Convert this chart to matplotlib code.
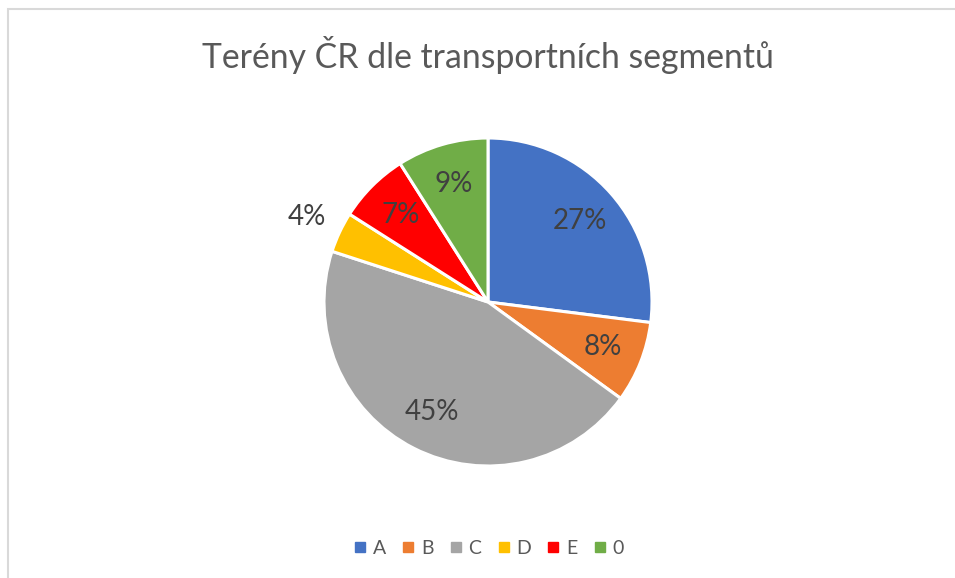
import numpy as np
import matplotlib.pyplot as plt
from matplotlib.patches import Rectangle
from matplotlib.lines import Line2D

plt.rcParams['font.family'] = ['Lato', 'DejaVu Sans']

labels = ['A', 'B', 'C', 'D', 'E', '0']
shares = [27, 8, 45, 4, 7, 9]
colors = ['#4472C4', '#ED7D31', '#A5A5A5', '#FFC000', '#FF0000', '#70AD47']
title = 'Terény ČR dle transportních segmentů'

W, H = 955, 578
fig = plt.figure(figsize=(W / 100, H / 100), dpi=100)

# chart area border (cropped on the right and bottom)
fig.patches.append(Rectangle((8 / W, -0.1), 1.2, (H - 9) / H + 0.1, transform=fig.transFigure,
                             fill=False, edgecolor='#D9D9D9', linewidth=1.5))

cx, cy, r = 488, 302, 164
ax = fig.add_axes([(cx - r) / W, (H - cy - r) / H, 2 * r / W, 2 * r / H])
wedges, texts, autotexts = ax.pie(shares, colors=colors, startangle=90, counterclock=False,
                                  autopct='%1.0f%%', pctdistance=0.75,
                                  wedgeprops=dict(edgecolor='white', linewidth=2.2),
                                  textprops=dict(color='#404040', fontsize=20))
ax.set_xlim(-1, 1)
ax.set_ylim(-1, 1)
ax.set_aspect('equal')

# small slice label sits outside
w = wedges[3]
mid = np.deg2rad((w.theta1 + w.theta2) / 2)
autotexts[3].set_position((1.22 * np.cos(mid), 1.22 * np.sin(mid)))

fig.text(cx / W, 1 - 55 / H, title, ha='center', va='center', fontsize=24.3, color='#595959')

handles = [Line2D([], [], marker='s', linestyle='none', markersize=7,
                  markerfacecolor=c, markeredgecolor=c) for c in colors]
fig.legend(handles, labels, loc='center', bbox_to_anchor=(cx / W, 1 - 548 / H), ncol=6,
           frameon=False, fontsize=14, labelcolor='#595959', handletextpad=0.25,
           columnspacing=0.75, handlelength=0.8)

fig.savefig('out.png', dpi=100)
